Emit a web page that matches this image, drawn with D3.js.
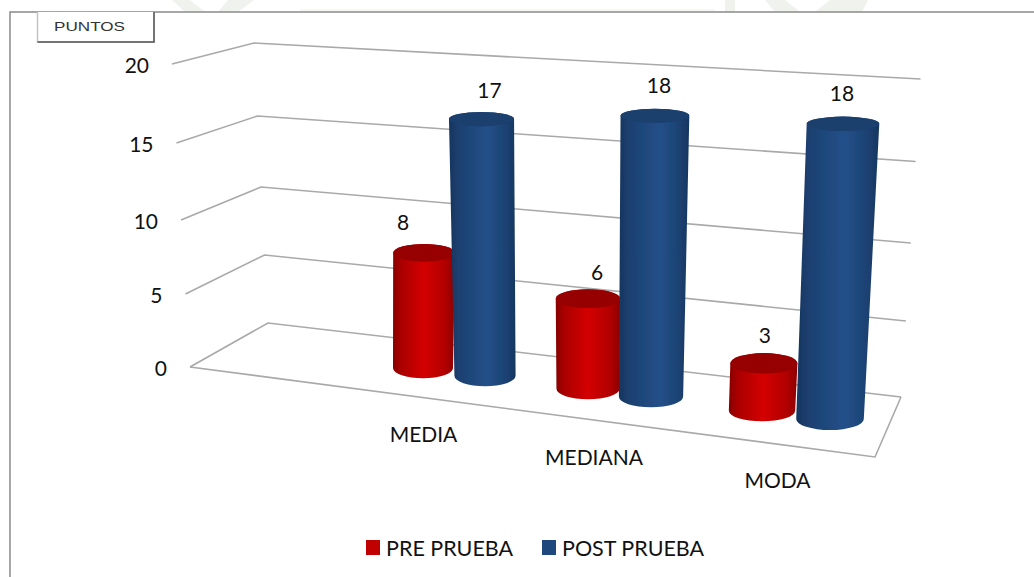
<!DOCTYPE html>
<html><head><meta charset="utf-8">
<script src="https://cdn.jsdelivr.net/npm/d3@7"></script>
<style>html,body{margin:0;padding:0;background:#fff}svg{display:block}text{font-family:Lato,"Open Sans",sans-serif;fill:#111}</style>
</head><body><svg id="c" width="1034" height="577"></svg>
<script>
const categories = ["MEDIA", "MEDIANA", "MODA"];
const seriesNames = ["PRE PRUEBA", "POST PRUEBA"];
const prePrueba = [8, 6, 3];
const postPrueba = [17, 18, 18];
const yTicks = [0, 5, 10, 15, 20];
const axisTitle = "PUNTOS";

const W = 1034, H = 577;
const svg = d3.select("#c").attr("viewBox", [0, 0, W, H]);

// ---- projection of the chart's box, value -> screen at each wall edge
const frontX = d3.scaleLinear().domain([0, 20]).range([190, 172]);
const frontY = d3.scaleLinear().domain(yTicks).range([367, 294, 220, 143, 64]);
const backX  = d3.scaleLinear().domain([0, 20]).range([268, 254]);
const backY  = d3.scaleLinear().domain(yTicks).range([323, 255, 187, 116, 43]);
const rightX = d3.scaleLinear().domain([0, 20]).range([901, 920.5]);
const rightY = d3.scaleLinear().domain(yTicks).range([397, 321, 243, 161.5, 79]);

// category position along the floor, and how each screen x maps onto depth/size
const catX = d3.scaleLinear().domain([0, 1, 2]).range([454, 619.5, 796]);
const halfGap = d3.scaleLinear().domain([0, 1, 2]).range([31, 31.5, 34]);
const floorY = d3.scaleLinear().domain([423, 830]).range([368, 419]);
const slotX = [423, 485, 588, 651, 762, 830];
const unitPx = d3.scaleLinear().domain(slotX).range([14.4, 15.1, 15, 15.6, 15.7, 16.4]);
const leanPerPx = d3.scaleLinear().domain(slotX).range([0.009, -0.0136, 0, 0.014, 0.04, 0.044]);
const radiusX = d3.scaleLinear().domain([423, 830]).range([30, 33.8]);
const radiusY = d3.scaleLinear().domain([110, 420]).range([7, 11]);
const catLabelX = d3.scaleLinear().domain([0, 1, 2]).range([423.5, 594, 777.5]);
const catLabelY = d3.scaleLinear().domain([0, 2]).range([442, 488]);

// ---- faint watermark remains above the frame
const wm = svg.append("g").attr("fill", "#f0f2ee");
wm.append("path").attr("d", "M172,0L190,0L205,12L185,12Z");
wm.append("path").attr("d", "M228,0L254,0L238,12L218,12Z");
wm.append("path").attr("d", "M725,0L735,0L735,12L725,12Z");
wm.append("path").attr("d", "M765,0L785,0L800,12L775,12Z");
wm.append("path").attr("d", "M830,0L868,0L862,12L815,12Z");
wm.append("rect").attr("x", 300).attr("y", 9).attr("width", 415).attr("height", 3).attr("fill", "#f7f8f5");

// ---- frame and title box
const frame = d3.line();
svg.append("path").attr("d", frame([[10, 577], [10, 12], [W, 12]]))
  .attr("fill", "none").attr("stroke", "#8a8a8a").attr("stroke-width", 1.5);
svg.append("path").attr("d", frame([[37.5, 12], [37.5, 42], [154, 42], [154, 12]]))
  .attr("fill", "#fff").attr("stroke", "#c4c4c4").attr("stroke-width", 1.5);
svg.append("path").attr("d", frame([[37.5, 42], [154, 42], [154, 12]]))
  .attr("fill", "none").attr("stroke", "#555").attr("stroke-width", 1.5);
svg.append("text").text(axisTitle).attr("x", 54).attr("y", 31)
  .style("font-family", "Liberation Sans, Arial, sans-serif").attr("font-size", 13)
  .attr("textLength", 71).attr("lengthAdjust", "spacingAndGlyphs").style("fill", "#333");

// ---- gridlines and floor
const grid = svg.append("g").attr("fill", "none").attr("stroke", "#a9a9a9").attr("stroke-width", 1.6);
grid.selectAll("path.g").data(yTicks).join("path").attr("class", "g")
  .attr("d", v => frame([[frontX(v), frontY(v)], [backX(v), backY(v)], [rightX(v), rightY(v)]]));
grid.append("path").attr("class", "floor")
  .attr("d", frame([[frontX(0), frontY(0)], [875, 457], [rightX(0), rightY(0)]]));

// ---- y tick labels
svg.append("g").selectAll("text").data(yTicks).join("text")
  .text(d => d)
  .attr("x", v => frontX(v) - 23)
  .attr("y", v => frontY(v) + 9)
  .attr("text-anchor", "end").attr("font-size", 21);

// ---- cylinder shading
const defs = svg.append("defs");
function shade(id, stops) {
  const g = defs.append("linearGradient").attr("id", id);
  stops.forEach(([o, c]) => g.append("stop").attr("offset", o).attr("stop-color", c));
}
shade("preBody", [[0, "#860000"], [0.12, "#a80000"], [0.5, "#d40000"], [0.85, "#b00000"], [1, "#8a0000"]]);
shade("postBody", [[0, "#17355f"], [0.15, "#1c4070"], [0.58, "#235089"], [0.85, "#1c4273"], [1, "#17365f"]]);
defs.append("filter").attr("id", "soft").append("feGaussianBlur").attr("stdDeviation", 0.6);
const seriesStyle = [
  { body: "url(#preBody)", cap: "#960000" },
  { body: "url(#postBody)", cap: "#1a3f6e" }
];
const legendColors = ["#c00000", "#1f497d"];

// ---- bars
const bars = [];
categories.forEach((c, i) => {
  [prePrueba[i], postPrueba[i]].forEach((v, s) => {
    bars.push({ cat: i, s, v, bx: catX(i) + (s ? 1 : -1) * halfGap(i) });
  });
});
const labelNudge = [[-21, -31], [8, -29], [9, -27], [4, -31], [1, -28], [-1, -31]];

const barG = svg.append("g").attr("filter", "url(#soft)");
bars.forEach((b, k) => {
  const by = floorY(b.bx);
  const h = b.v * unitPx(b.bx);
  const ty = by - h;
  const tx = b.bx + h * leanPerPx(b.bx);
  const rb = radiusX(b.bx);
  const rt = rb * (1 + h * 0.00025);
  const ryb = radiusY(by), ryt = radiusY(ty);
  const st = seriesStyle[b.s];
  barG.append("path")
    .attr("d", `M${tx - rt},${ty} L${b.bx - rb},${by} A${rb},${ryb} 0 0 0 ${b.bx + rb},${by} L${tx + rt},${ty} A${rt},${ryt} 0 0 0 ${tx - rt},${ty}Z`)
    .attr("fill", st.body);
  barG.append("ellipse").attr("cx", tx).attr("cy", ty).attr("rx", rt).attr("ry", ryt).attr("fill", st.cap);
  b.tx = tx; b.ty = ty; b.nudge = labelNudge[k];
});
svg.append("g").selectAll("text").data(bars).join("text")
  .text(b => b.v)
  .attr("x", b => b.tx + b.nudge[0]).attr("y", b => b.ty + b.nudge[1] + 8)
  .attr("text-anchor", "middle").attr("font-size", 21);

// ---- category labels
svg.append("g").selectAll("text").data(categories).join("text")
  .text(d => d)
  .attr("x", (d, i) => catLabelX(i)).attr("y", (d, i) => catLabelY(i))
  .attr("text-anchor", "middle").attr("font-size", 21);

// ---- legend
const legendX = d3.scaleOrdinal().domain(seriesNames).range([366, 542]);
const lg = svg.append("g").selectAll("g").data(seriesNames).join("g")
  .attr("transform", d => `translate(${legendX(d)},540)`);
lg.append("rect").attr("width", 14).attr("height", 15).attr("fill", (d, i) => legendColors[i]);
lg.append("text").text(d => d).attr("x", 20).attr("y", 15.5).attr("font-size", 21.5);
</script></body></html>
